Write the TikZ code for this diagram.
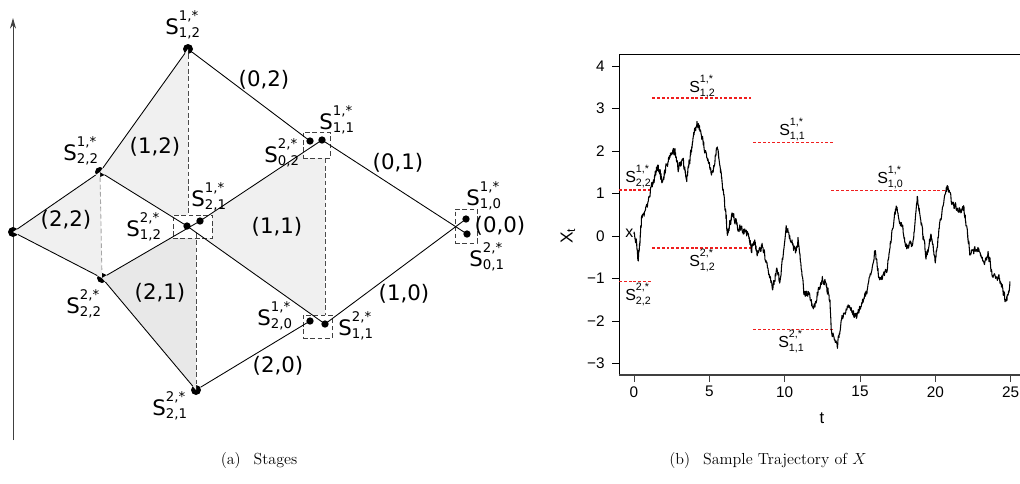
\documentclass[tikz,border=0pt]{standalone}
\usepackage{fontspec}
\newfontfamily\dejavu{DejaVu Sans}
\newfontfamily\arialike{Liberation Sans}
\usetikzlibrary{arrows.meta,calc}
\definecolor{barred}{RGB}{240,30,30}
% S with stacked super- and subscript
\newcommand{\Sd}[2]{S\rlap{\raisebox{0.64em}{\fontsize{10}{10}\selectfont #1}}\raisebox{-0.16em}{\fontsize{10}{10}\selectfont #2}}
\newcommand{\Sr}[2]{S\rlap{\raisebox{0.62em}{\fontsize{8}{8}\selectfont #1}}\raisebox{-0.25em}{\fontsize{8}{8}\selectfont #2}}
\tikzset{
  bigdot/.style={circle, fill, inner sep=0pt, minimum size=7.5pt},
  smalldot/.style={circle, fill, inner sep=0pt, minimum size=5.5pt},
  wire/.style={line width=0.65pt},
  vdash/.style={dash pattern=on 3.5pt off 2pt, black!70, line width=0.65pt},
  dbox/.style={draw=black!75, dash pattern=on 3.5pt off 2pt, line width=0.75pt, fill=white, inner sep=0pt},
  lightfill/.style={fill=black!6},
  slab/.style={font=\dejavu\fontsize{16}{16}\selectfont, anchor=base west, inner sep=0pt},
  pairlab/.style={font=\dejavu\fontsize{16}{16}\selectfont, inner sep=0pt},
  rlab/.style={font=\arialike\fontsize{12}{12}\selectfont, anchor=base west, inner sep=0pt},
  ticklab/.style={font=\arialike\fontsize{11.5}{12}\selectfont, inner sep=0pt},
  traj/.style={line width=0.8pt, line join=round}
}
\begin{document}
\begin{tikzpicture}[x=0.75pt, y=-0.75pt]
\useasboundingbox (0,0) rectangle (1020,483);

%% (a) stages
\coordinate (axbot) at (13,440);
\coordinate (axtop) at (13,18);
\draw[-{Stealth[length=8pt,width=4.5pt]}, black!75, line width=0.65pt] (axbot) -- (axtop);

\node[bigdot] (s0) at (13,232) {};
\node[bigdot] (sa22) at (100,172) {};
\node[bigdot] (sb22) at (102,278) {};
\node[bigdot] (sa12) at (188,49) {};
\node[bigdot] (sb21) at (196,390) {};
\coordinate (p12) at (187,226);
\coordinate (p21) at (200,221);
\coordinate (p02) at (310,141);
\coordinate (p11) at (322,140);
\coordinate (p10) at (466,219);
\coordinate (p01) at (467,234);
\coordinate (p20) at (310,321);
\coordinate (q11) at (325,324);

% shaded stages
\fill[lightfill] (s0.center) -- (sa22.center) -- (sb22.center) -- cycle;
\fill[lightfill] (sa22.center) -- (sa12.center) -- (sa12.center |- p12) -- cycle;
\fill[fill=black!9] (sb22.center) -- ($(sb22.center)!0.96!(p21)$) -- (sb21.center) -- cycle;
\fill[lightfill] (p21) -- (p11) -- (q11 |- p11) -- (q11) -- (p12) -- cycle;

% boxes
\node[dbox, minimum width=29.25pt, minimum height=17.25pt] (midbox) at (192.5,226.5) {};
\node[dbox, minimum width=20.25pt, minimum height=19.5pt] (upbox) at (316.5,145) {};
\node[dbox, minimum width=16.5pt, minimum height=25.5pt] (rbox) at (466,226) {};
\node[dbox, minimum width=21.75pt, minimum height=17.25pt] (lowbox) at (317.5,326.5) {};

% dashed verticals
\draw[vdash, black!35] (sa22) -- (sb22);
\draw[vdash] (sa12) -- (sa12 |- midbox.north);
\draw[vdash] (p21 -| sb21) ++(0,12) -- (sb21);
\draw[vdash] (q11 |- upbox.south) -- (q11 |- lowbox.north);

% paths
\draw[wire] (s0) -- (sa22);
\draw[wire] (s0) -- (sb22);
\draw[wire] (sa22) -- (sa12);
\draw[wire] (sa22) -- (p12);
\draw[wire] (sb22) -- (p21);
\draw[wire] (p21) -- (p11);
\draw[wire] (sb22) -- (sb21);
\draw[wire] (sb21) -- (p20);
\draw[wire] (p12) -- (q11);
\draw[wire] (sa12) -- (p02);
\draw[wire] (p11) -- (p01);
\draw[wire] (q11) -- (p10);

\node[smalldot] (sb12) at (p12) {};
\node[smalldot] (sa21) at (p21) {};
\node[smalldot] (sb02) at (p02) {};
\node[smalldot] (sa11) at (p11) {};
\node[smalldot] (sa10) at (p10) {};
\node[smalldot] (sb01) at (p01) {};
\node[smalldot] (sa20) at (p20) {};
\node[smalldot] (sb11) at (q11) {};

% labels
\node[slab] (la12) at (165,34) {\Sd{1,*}{1,2}};
\node[slab] (la22) at (63,160) {\Sd{1,*}{2,2}};
\node[slab] (lb12) at (126,236) {\Sd{2,*}{1,2}};
\node[slab] (la21) at (191,206) {\Sd{1,*}{2,1}};
\node[slab] (lb22) at (66,313) {\Sd{2,*}{2,2}};
\node[slab] (lb21) at (152,415) {\Sd{2,*}{2,1}};
\node[slab] (lb02) at (264,162) {\Sd{2,*}{0,2}};
\node[slab] (la11) at (319,129) {\Sd{1,*}{1,1}};
\node[slab] (la10) at (466,205) {\Sd{1,*}{1,0}};
\node[slab] (lb01) at (469,266) {\Sd{2,*}{0,1}};
\node[slab] (la20) at (257,325) {\Sd{1,*}{2,0}};
\node[slab] (lb11) at (338,335) {\Sd{2,*}{1,1}};

\node[pairlab] (g22) at (66,220) {(2,2)};
\node[pairlab] (g12) at (155,147) {(1,2)};
\node[pairlab] (g21) at (160,293) {(2,1)};
\node[pairlab] (g11) at (277,227) {(1,1)};
\node[pairlab] (g02) at (264,80) {(0,2)};
\node[pairlab] (g01) at (398,163) {(0,1)};
\node[pairlab] (g00) at (500,226) {(0,0)};
\node[pairlab] (g10) at (404,294) {(1,0)};
\node[pairlab] (g20) at (278,366) {(2,0)};

\node[font=\fontsize{12}{14}\selectfont] (capa) at (259,460) {(a)\hspace{0.8em}Stages};

%% (b) trajectory
\begin{scope}[shift={(634,236)}, x=11.3pt, y=31.875pt]
  \draw[line width=0.75pt] (26,4.28) -- (-0.995,4.28) -- (-0.995,-3.27);
  \draw[line width=1.3pt, black!75] (-0.995,-3.27) -- (26,-3.27);
  \foreach \v/\lab in {4/4,3/3,2/2,1/1,0/0,-1/−1,-2/−2,-3/−3} {
    \draw[line width=0.6pt] (-0.995,\v) -- (-1.46,\v);
    \node[ticklab, anchor=east] (yt\v) at (-1.93,\v) {\lab};
  }
  \foreach \t in {0,5,...,25} {
    \draw[line width=0.6pt, black!75] (\t,-3.27) -- (\t,-3.43);
    \node[ticklab, anchor=north] (xt\t) at (\t,-3.53) {\t};
  }
  % barriers, dash by dash
  \foreach \ta/\tb/\v in {1.2/7.8/3.25, 1.2/7.8/-0.29, -0.995/1.1/1.08, -0.995/1.1/-1.07,
                          7.9/13.1/2.2, 7.9/13.1/-2.2, 13.1/20.7/1.07} {
    \pgfmathsetmacro\tn{\ta+0.32}
    \foreach \s in {\ta,\tn,...,\tb} {
      \fill[barred] (\s,\v) ++(0,-0.02) rectangle ++(0.19,0.04);
    }
  }
  % sample path
  \pgfmathsetseed{11}
  \xdef\ww{0}
  \xdef\trajpath{(0,0.05)}
  \foreach \t/\v [remember=\t as \tp (initially 0), remember=\v as \vp (initially 0.05)] in
   {0.15/-0.15, 0.27/-0.6, 0.4/-0.1, 0.5/0.38, 0.8/0.6, 1.1/1.08, 1.3/1.3, 1.5/1.6,
    1.7/1.55, 1.9/1.25, 2.1/1.6, 2.4/1.87, 2.7/2.0, 2.95/1.6, 3.25/1.75, 3.5/1.36,
    3.7/1.8, 3.9/2.26, 4.2/2.65, 4.45/2.45, 4.8/1.86, 5.2/1.47, 5.5/2.1, 5.7/1.72,
    5.9/1.1, 6.1/0.54, 6.2/0.0, 6.4/0.35, 6.6/0.5, 6.9/0.2, 7.25/0.14, 7.6/0.0,
    7.8/-0.29, 8.0/-0.1, 8.2/-0.4, 8.5/-0.2, 8.8/-0.64, 9.2/-1.27, 9.45/-0.8,
    9.7/-1.1, 10.1/0.2, 10.4/-0.05, 10.7/-0.4, 10.9/-0.1, 11.3/-1.4, 11.6/-1.3,
    11.9/-1.8, 12.2/-1.3, 12.5/-1.0, 12.8/-1.2, 13.0/-1.5, 13.1/-2.2, 13.5/-2.56,
    13.8/-1.9, 14.1/-1.67, 14.5/-1.8, 14.8/-1.9, 15.2/-1.5, 15.5/-1.27, 16.0/-0.33,
    16.3/-1.08, 16.8/-0.8, 17.1/0.07, 17.4/0.68, 17.8/0.2, 18.1/-0.26, 18.5/-0.2,
    18.8/0.92, 19.1/0.2, 19.4/-0.5, 19.7/0.0, 20.0/-0.56, 20.3/0.3, 20.7/1.07,
    20.85/1.15, 21.1/0.8, 21.5/0.6, 21.9/0.66, 22.1/0.1, 22.3/-0.4, 22.8/-0.3,
    23.2/-0.64, 23.5/-0.4, 23.8/-0.96, 24.2/-1.0, 24.5/-1.3, 24.7/-1.58, 24.95/-1.1} {
    \foreach \k in {1,...,14} {
      \pgfmathsetmacro\wn{0.4*\ww+0.085*rand}
      \xdef\ww{\wn}
      \pgfmathsetmacro\xx{\tp+(\t-\tp)*\k/14}
      \pgfmathsetmacro\yy{\vp+(\v-\vp)*\k/14+\ww}
      \xdef\trajpath{\trajpath -- (\xx,\yy)}
    }
  }
  \draw[traj] \trajpath;
\end{scope}

\node[rlab] (r12a) at (689,92) {\Sr{1,*}{1,2}};
\node[rlab] (r22a) at (625,182) {\Sr{1,*}{2,2}};
\node[rlab] (r11a) at (779,135) {\Sr{1,*}{1,1}};
\node[rlab] (r10a) at (877,183) {\Sr{1,*}{1,0}};
\node[rlab] (r12b) at (689,266) {\Sr{2,*}{1,2}};
\node[rlab] (r22b) at (625,300) {\Sr{2,*}{2,2}};
\node[rlab] (r11b) at (778,347) {\Sr{2,*}{1,1}};
\node[rlab] (xstart) at (625,237) {x};
\node[font=\arialike\fontsize{12.5}{13}\selectfont, inner sep=0pt] (tlab) at (822,418) {t};
\node[font=\arialike\fontsize{13}{13}\selectfont, inner sep=0pt, rotate=90] (ylab) at (568,236) {X\textsubscript{t}};

\node[font=\fontsize{12}{14}\selectfont] (capb) at (768,460) {(b)\hspace{0.8em}Sample Trajectory of $X$};
\end{tikzpicture}
\end{document}
